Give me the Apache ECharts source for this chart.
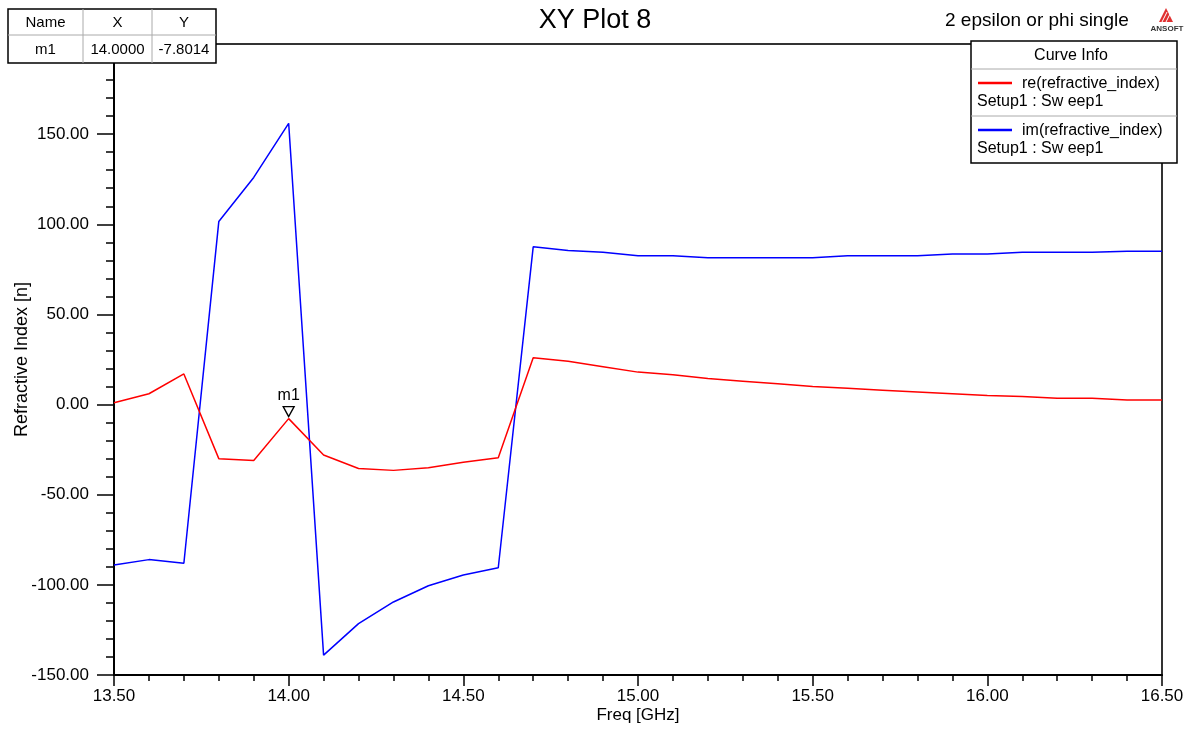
<!DOCTYPE html>
<html>
<head>
<meta charset="utf-8">
<script src="https://cdn.jsdelivr.net/npm/echarts@6/dist/echarts.min.js"></script>
<style>
html,body{margin:0;padding:0;background:#fff;}
#chart{width:1190px;height:729px;}
</style>
</head>
<body>
<div id="chart"></div>
<script>
var freq = [13.5,13.6,13.7,13.8,13.9,14.0,14.1,14.2,14.3,14.4,14.5,14.6,14.7,14.8,14.9,15.0,15.1,15.2,15.3,15.4,15.5,15.6,15.7,15.8,15.9,16.0,16.1,16.2,16.3,16.4,16.5];
var reIndex = [1,6,17,-30,-31,-7.8014,-28,-35.5,-36.5,-35,-32,-29.5,26,24,21,18,16.5,14.5,13,11.5,10,9,8,7,6,5,4.5,3.5,3.5,2.5,2.5];
var imIndex = [-89,-86,-88,101.5,126,156,-139,-121.5,-109.5,-100.5,-94.5,-90.5,87.5,85.5,84.5,82.5,82.5,81.5,81.5,81.5,81.5,82.5,82.5,82.5,83.5,83.5,84.5,84.5,84.5,85,85];
var seriesNames = ['re(refractive_index)','im(refractive_index)'];
var seriesSub = 'Setup1 : Sw eep1';
var markerName = 'm1';
var markerX = 14.0;
var markerY = -7.8014;
var titleText = 'XY Plot 8';
var subtitleText = '2 epsilon or phi single';
var xName = 'Freq [GHz]';
var yName = 'Refractive Index [n]';

function pairs(xs, ys){ return xs.map(function(x,i){ return [x, ys[i]]; }); }

var FONT = '"Liberation Sans", Arial, sans-serif';
var chart = echarts.init(document.getElementById('chart'), null, {renderer:'canvas'});

var graphics = [];
// Title
graphics.push({type:'text', z:100, x:595, y:21, style:{text:titleText, font:'27px '+FONT, fill:'#000', textAlign:'center', textVerticalAlign:'middle'}});
graphics.push({type:'text', z:100, x:945, y:21, style:{text:subtitleText, font:'19px '+FONT, fill:'#000', textVerticalAlign:'middle'}});
// ANSOFT logo
graphics.push({type:'polygon', z:100, shape:{points:[[1166,8],[1159,22],[1173,22]]}, style:{fill:'#e03030'}});
graphics.push({type:'line', z:101, shape:{x1:1162,y1:22,x2:1167,y2:12}, style:{stroke:'#fff',lineWidth:1}});
graphics.push({type:'line', z:101, shape:{x1:1166,y1:22,x2:1170,y2:14}, style:{stroke:'#fff',lineWidth:1}});
graphics.push({type:'text', z:100, x:1167, y:29, style:{text:'ANSOFT', font:'bold 8px '+FONT, fill:'#333', textAlign:'center', textVerticalAlign:'middle'}});

// Marker table
var tx=[8,83,152,216], ty=[9,35,63];
graphics.push({type:'rect', z:100, shape:{x:8,y:9,width:208,height:54}, style:{fill:'#fff', stroke:'#000', lineWidth:1.5}});
graphics.push({type:'line', z:101, shape:{x1:8,y1:35,x2:216,y2:35}, style:{stroke:'#aaa', lineWidth:1}});
graphics.push({type:'line', z:101, shape:{x1:83,y1:9,x2:83,y2:63}, style:{stroke:'#aaa', lineWidth:1}});
graphics.push({type:'line', z:101, shape:{x1:152,y1:9,x2:152,y2:63}, style:{stroke:'#aaa', lineWidth:1}});
var cells = [['Name','X','Y'],[markerName, markerX.toFixed(4), markerY.toFixed(4)]];
for (var r=0;r<2;r++){ for (var c=0;c<3;c++){
  graphics.push({type:'text', z:102, x:(tx[c]+tx[c+1])/2, y:(ty[r]+ty[r+1])/2+1,
    style:{text:cells[r][c], font:'15px '+FONT, fill:'#000', textAlign:'center', textVerticalAlign:'middle'}});
}}

// Curve info legend
graphics.push({type:'rect', z:100, shape:{x:971,y:41,width:206,height:122}, style:{fill:'#fff', stroke:'#000', lineWidth:1.5}});
graphics.push({type:'line', z:101, shape:{x1:971,y1:69,x2:1177,y2:69}, style:{stroke:'#aaa', lineWidth:1}});
graphics.push({type:'line', z:101, shape:{x1:971,y1:116,x2:1177,y2:116}, style:{stroke:'#aaa', lineWidth:1}});
graphics.push({type:'text', z:102, x:1071, y:56, style:{text:'Curve Info', font:'16px '+FONT, fill:'#000', textAlign:'center', textVerticalAlign:'middle'}});
var colors = ['#ff0000','#0000ff'];
[83,130].forEach(function(yy,i){
  graphics.push({type:'line', z:102, shape:{x1:978,y1:yy,x2:1012,y2:yy}, style:{stroke:colors[i], lineWidth:2.5}});
  graphics.push({type:'text', z:102, x:1022, y:yy+1, style:{text:seriesNames[i], font:'16px '+FONT, fill:'#000', textVerticalAlign:'middle'}});
  graphics.push({type:'text', z:102, x:977, y:yy+19, style:{text:seriesSub, font:'16px '+FONT, fill:'#000', textVerticalAlign:'middle'}});
});

var option = {
  animation:false,
  backgroundColor:'#fff',
  grid:{left:114, right:28, top:44, bottom:54, containLabel:false, outerBoundsMode:'none', show:true, borderColor:'#333', borderWidth:2, backgroundColor:'transparent'},
  xAxis:{type:'value', min:13.5, max:16.5, interval:0.5,
    name:xName, nameLocation:'middle', nameGap:32, nameMoveOverlap:false, nameTextStyle:{fontFamily:FONT, fontSize:17, color:'#000'},
    axisLine:{show:true, onZero:false, lineStyle:{color:'#000', width:2}},
    axisTick:{show:true, length:11, lineStyle:{color:'#000', width:1.5}},
    minorTick:{show:true, splitNumber:5, length:6, lineStyle:{color:'#000', width:1.5}},
    splitLine:{show:false},
    axisLabel:{fontFamily:FONT, fontSize:17, color:'#000', margin:13, formatter:function(v){return v.toFixed(2);}}
  },
  yAxis:{type:'value', min:-150, max:200, interval:50,
    name:yName, nameLocation:'middle', nameGap:83, nameMoveOverlap:false, nameRotate:90, nameTextStyle:{fontFamily:FONT, fontSize:18, color:'#000'},
    axisLine:{show:true, onZero:false, lineStyle:{color:'#000', width:2}},
    axisTick:{show:true, length:17, lineStyle:{color:'#000', width:1.5}},
    minorTick:{show:true, splitNumber:5, length:8, lineStyle:{color:'#000', width:1.5}},
    splitLine:{show:false},
    axisLabel:{fontFamily:FONT, fontSize:17, color:'#000', margin:25, formatter:function(v){return v>=200?'':v.toFixed(2);}}
  },
  series:[
    {name:seriesNames[0], type:'line', data:pairs(freq, reIndex), showSymbol:false, symbol:'none',
     lineStyle:{color:'#ff0000', width:1.5}, itemStyle:{color:'#ff0000'}, z:3,
     markPoint:{symbol:'triangle', symbolRotate:180, symbolSize:[11,10], symbolOffset:[0,-7],
       itemStyle:{color:'#fff', borderColor:'#000', borderWidth:1.3},
       label:{show:true, position:'top', distance:2, formatter:markerName, color:'#000', fontFamily:FONT, fontSize:16},
       data:[{coord:[markerX, markerY]}]}
    },
    {name:seriesNames[1], type:'line', data:pairs(freq, imIndex), showSymbol:false, symbol:'none',
     lineStyle:{color:'#0000ff', width:1.5}, itemStyle:{color:'#0000ff'}, z:2}
  ],
  graphic:graphics
};
chart.setOption(option);
</script>
</body>
</html>
